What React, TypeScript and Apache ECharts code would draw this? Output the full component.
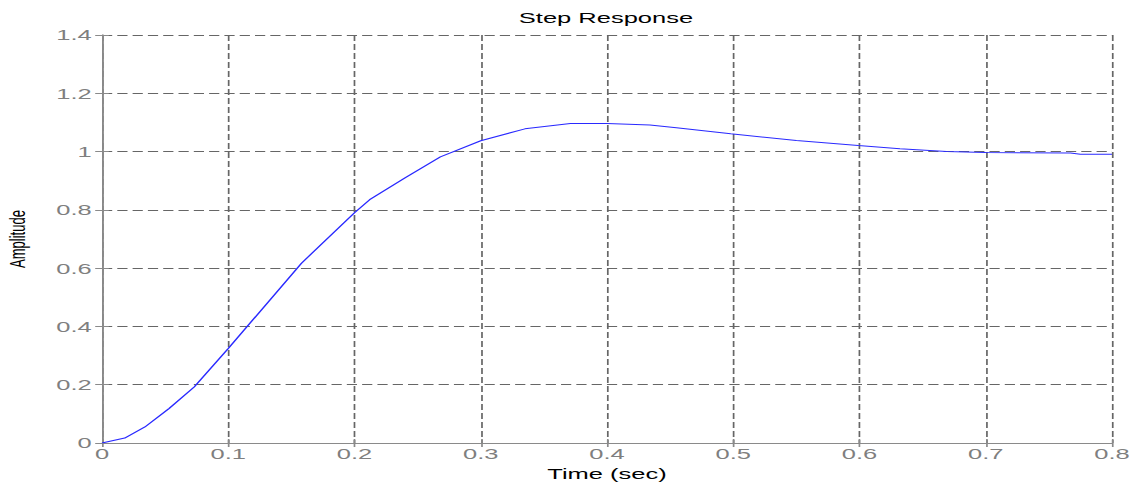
import React, { useEffect, useRef } from "react";
import * as echarts from "echarts";

// Step response samples (time in sec, amplitude)
const timeValues = [0, 0.018, 0.034, 0.053, 0.073, 0.1, 0.158, 0.2, 0.212, 0.24, 0.268, 0.3, 0.335, 0.371, 0.4, 0.434, 0.455, 0.498, 0.55, 0.599, 0.632, 0.669, 0.7, 0.767, 0.775, 0.8];
const amplitudeValues = [0, 0.017, 0.055, 0.118, 0.192, 0.324, 0.617, 0.79, 0.835, 0.91, 0.982, 1.037, 1.078, 1.096, 1.096, 1.091, 1.082, 1.061, 1.038, 1.021, 1.01, 1.0, 0.997, 0.995, 0.991, 0.991];

const titleText = "Step Response";
const xAxisTitle = "Time (sec)";
const yAxisTitle = "Amplitude";
const xMin = 0, xMax = 0.8, xStep = 0.1;
const yMin = 0, yMax = 1.4, yStep = 0.2;

// the reference is horizontally stretched; draw narrower and stretch with CSS
const S = 1.7;
const W = Math.round(1134 / S);
const H = 485;

const fmt = (v: number) => String(parseFloat(v.toFixed(2)));

export default function App() {
  const ref = useRef<HTMLDivElement>(null);
  useEffect(() => {
    if (!ref.current) return;
    const chart = echarts.init(ref.current, null, { renderer: "svg" });
    const sx = 1134 / W;
    const font = "'Liberation Sans', Arial, sans-serif";
    const axisColor = "#8a8a8a";
    const gridLine = { show: true, lineStyle: { color: "#666", width: 1, type: [6, 3] as any } };
    const tick = { show: true, inside: true, length: 4, lineStyle: { color: axisColor } };
    const label = { color: "#7f7f7f", fontSize: 15, fontFamily: font };
    const data = timeValues.map((t, i) => [t, amplitudeValues[i]]);
    chart.setOption({
      animation: false,
      backgroundColor: "#fff",
      grid: {
        left: 102 / sx, right: (1134 - 1112) / sx, top: 35, bottom: 42,
        containLabel: false, outerBoundsMode: "none",
      },
      graphic: [
        {
          type: "text",
          x: 606 / sx,
          y: 18,
          style: { text: titleText, fill: "#000", font: `15px ${font}`, textAlign: "center", textVerticalAlign: "middle" },
        },
      ],
      xAxis: [
        {
          type: "value", min: xMin, max: xMax, interval: xStep, position: "bottom",
          name: xAxisTitle, nameLocation: "middle", nameGap: 23,
          nameTextStyle: { color: "#000", fontSize: 15, fontFamily: font },
          axisLine: { show: true, lineStyle: { color: axisColor, width: 1 } },
          axisTick: tick,
          axisLabel: { ...label, margin: 3, formatter: fmt },
          splitLine: gridLine,
        },
        {
          type: "value", min: xMin, max: xMax, interval: xStep, position: "top",
          axisLine: { show: true, lineStyle: { color: axisColor, width: 1 } },
          axisTick: tick, axisLabel: { show: false }, splitLine: { show: false },
        },
      ],
      yAxis: [
        {
          type: "value", min: yMin, max: yMax, interval: yStep, position: "left",
          name: yAxisTitle, nameLocation: "middle", nameGap: 43, nameRotate: 90,
          nameTextStyle: { color: "#000", fontSize: 13, fontFamily: font },
          axisLine: { show: true, lineStyle: { color: axisColor, width: 1 } },
          axisTick: tick,
          axisLabel: { ...label, margin: 6, formatter: fmt },
          splitLine: gridLine,
        },
        {
          type: "value", min: yMin, max: yMax, interval: yStep, position: "right",
          axisLine: { show: true, lineStyle: { color: axisColor, width: 1 } },
          axisTick: tick, axisLabel: { show: false }, splitLine: { show: false },
        },
      ],
      series: [
        {
          type: "line",
          data,
          xAxisIndex: 0,
          yAxisIndex: 0,
          showSymbol: false,
          smooth: false,
          lineStyle: { color: "#2a2aff", width: 1 },
          z: 5,
        },
      ],
    });
    return () => chart.dispose();
  }, []);
  return (
    <div
      ref={ref}
      style={{
        position: "fixed",
        left: 0,
        top: 0,
        width: W,
        height: H,
        transform: `scaleX(${1134 / W})`,
        transformOrigin: "0 0",
        background: "#fff",
      }}
    />
  );
}
